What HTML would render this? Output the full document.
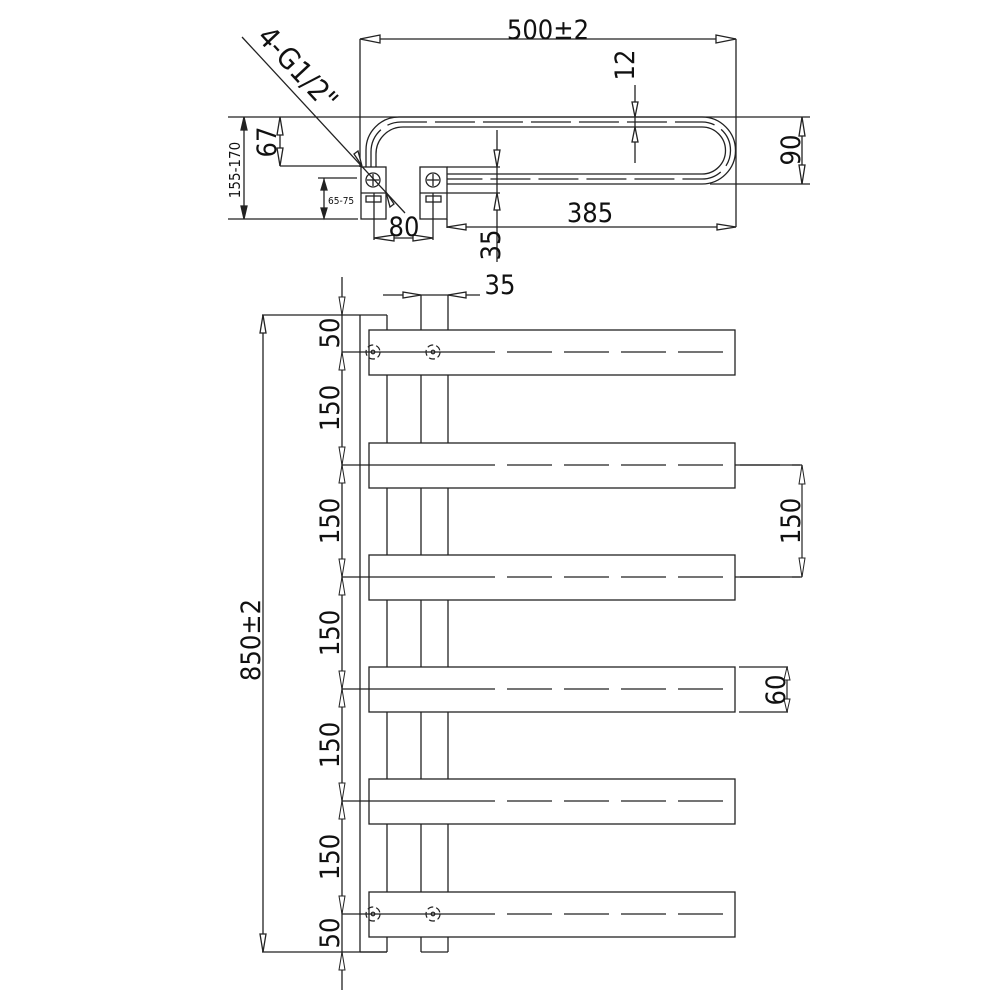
<!DOCTYPE html>
<html><head><meta charset="utf-8"><style>
html,body{margin:0;padding:0;background:#fff}
svg{display:block}
text{font-family:"DejaVu Sans","Liberation Sans",sans-serif;fill:#111;font-stretch:condensed}
</style></head><body>
<svg width="1000" height="1000" viewBox="0 0 1000 1000" xmlns="http://www.w3.org/2000/svg">
<g stroke="#222" stroke-width="1.3" fill="none">
<line x1="360" y1="39" x2="736" y2="39"/>
<line x1="360" y1="39" x2="360" y2="167"/>
<line x1="736" y1="39" x2="736" y2="227"/>
<polygon points="360,39 380,35 380,43" fill="#fff"/>
<polygon points="736,39 716,35 716,43" fill="#fff"/>
<line x1="228" y1="117" x2="810" y2="117"/>
<line x1="228" y1="219" x2="358" y2="219"/>
<line x1="280" y1="166" x2="361" y2="166"/>
<line x1="318" y1="178" x2="357" y2="178"/>
<line x1="710" y1="184" x2="810" y2="184"/>
<path d="M366,167 L366,150 A33,33 0 0 1 399,117 L702,117 A33.5,33.5 0 0 1 702,184 L447,184"/>
<path d="M371,167 L371,152 A30,30 0 0 1 401,122 L702,122 A28.5,28.5 0 0 1 702,179 L447,179" stroke-dasharray="40,8"/>
<path d="M376,167 L376,154 A27,27 0 0 1 403,127 L702,127 A23.5,23.5 0 0 1 702,174 L447,174"/>
<rect x="361" y="167" width="25" height="52" fill="#fff"/>
<line x1="361" y1="193" x2="386" y2="193"/>
<circle cx="373" cy="180" r="7"/>
<line x1="367" y1="180" x2="379" y2="180"/><line x1="373" y1="174" x2="373" y2="186"/>
<rect x="366" y="196" width="15" height="6"/>
<rect x="420" y="167" width="27" height="52" fill="#fff"/>
<line x1="420" y1="193" x2="447" y2="193"/>
<circle cx="433" cy="180" r="7"/>
<line x1="427" y1="180" x2="439" y2="180"/><line x1="433" y1="174" x2="433" y2="186"/>
<rect x="426" y="196" width="15" height="6"/>
<line x1="447" y1="167" x2="500" y2="167"/>
<line x1="447" y1="193" x2="500" y2="193"/>
<line x1="374" y1="193" x2="374" y2="240"/>
<line x1="433" y1="193" x2="433" y2="240"/>
<line x1="374" y1="238" x2="433" y2="238"/>
<polygon points="374,238 394,235 394,241" fill="#fff"/>
<polygon points="433,238 413,235 413,241" fill="#fff"/>
<line x1="242" y1="37" x2="405" y2="213"/>
<polygon points="362,166 354,154 358,151" fill="#fff"/>
<polygon points="386,192 394,204 390,207" fill="#fff"/>
<line x1="280" y1="117" x2="280" y2="166"/>
<polygon points="280,117 277,135 283,135" fill="#fff"/>
<polygon points="280,166 277,148 283,148" fill="#fff"/>
<line x1="244" y1="117" x2="244" y2="219"/>
<polygon points="244,117 241,130 247,130" fill="#222"/>
<polygon points="244,219 241,206 247,206" fill="#222"/>
<line x1="324" y1="178" x2="324" y2="219"/>
<polygon points="324,180 321,190 327,190" fill="#222"/>
<polygon points="324,218 321,208 327,208" fill="#222"/>
<line x1="497" y1="130" x2="497" y2="262"/>
<polygon points="497,167 494,150 500,150" fill="#fff"/>
<polygon points="497,193 494,210 500,210" fill="#fff"/>
<line x1="447" y1="219" x2="447" y2="228"/>
<line x1="447" y1="227" x2="736" y2="227"/>
<polygon points="447,227 466,224 466,230" fill="#fff"/>
<polygon points="736,227 717,224 717,230" fill="#fff"/>
<line x1="635" y1="85" x2="635" y2="163"/>
<polygon points="635,117 632,102 638,102" fill="#fff"/>
<polygon points="635,127 632,142 638,142" fill="#fff"/>
<line x1="802" y1="117" x2="802" y2="184"/>
<polygon points="802,117 799,136 805,136" fill="#fff"/>
<polygon points="802,184 799,165 805,165" fill="#fff"/>

<line x1="360" y1="315" x2="360" y2="952"/>
<line x1="387" y1="315" x2="387" y2="952"/>
<line x1="360" y1="952" x2="387" y2="952"/>
<line x1="262" y1="315" x2="387" y2="315"/>
<line x1="262" y1="952" x2="387" y2="952"/>
<line x1="421" y1="295" x2="421" y2="952"/>
<line x1="448" y1="295" x2="448" y2="952"/>
<line x1="421" y1="952" x2="448" y2="952"/>
<line x1="383" y1="295" x2="480" y2="295"/>
<polygon points="421,295 403,292 403,298" fill="#fff"/>
<polygon points="448,295 466,292 466,298" fill="#fff"/>
<line x1="263" y1="315" x2="263" y2="952"/>
<polygon points="263,315 260,333 266,333" fill="#fff"/>
<polygon points="263,952 260,934 266,934" fill="#fff"/>
<line x1="342" y1="277" x2="342" y2="990"/>
</g>
<g stroke="#222" stroke-width="1.3" fill="#fff">
<rect x="369" y="330" width="366" height="45"/>
<rect x="369" y="443" width="366" height="45"/>
<rect x="369" y="555" width="366" height="45"/>
<rect x="369" y="667" width="366" height="45"/>
<rect x="369" y="779" width="366" height="45"/>
<rect x="369" y="892" width="366" height="45"/>
</g>
<g stroke="#222" stroke-width="1.2" fill="none">
<line x1="342" y1="352" x2="450" y2="352"/><line x1="450" y1="352" x2="735" y2="352" stroke-dasharray="45,12"/>
<line x1="342" y1="465" x2="450" y2="465"/><line x1="450" y1="465" x2="800" y2="465" stroke-dasharray="45,12"/>
<line x1="342" y1="577" x2="450" y2="577"/><line x1="450" y1="577" x2="800" y2="577" stroke-dasharray="45,12"/>
<line x1="342" y1="689" x2="450" y2="689"/><line x1="450" y1="689" x2="735" y2="689" stroke-dasharray="45,12"/>
<line x1="342" y1="801" x2="450" y2="801"/><line x1="450" y1="801" x2="735" y2="801" stroke-dasharray="45,12"/>
<line x1="342" y1="914" x2="450" y2="914"/><line x1="450" y1="914" x2="735" y2="914" stroke-dasharray="45,12"/>
<line x1="740" y1="465" x2="802" y2="465"/>
<line x1="740" y1="577" x2="802" y2="577"/>
<line x1="802" y1="465" x2="802" y2="577"/>
<line x1="739" y1="667" x2="788" y2="667"/>
<line x1="739" y1="712" x2="788" y2="712"/>
<line x1="787" y1="667" x2="787" y2="712"/>
<circle cx="373" cy="352" r="7" stroke-dasharray="6,3"/><circle cx="373" cy="352" r="1.8"/>
<circle cx="433" cy="352" r="7" stroke-dasharray="6,3"/><circle cx="433" cy="352" r="1.8"/>
<circle cx="373" cy="914" r="7" stroke-dasharray="6,3"/><circle cx="373" cy="914" r="1.8"/>
<circle cx="433" cy="914" r="7" stroke-dasharray="6,3"/><circle cx="433" cy="914" r="1.8"/>
</g>
<g stroke="#222" stroke-width="1" fill="#fff">
<polygon points="342,315 339,297 345,297"/>
<polygon points="342,352 339,370 345,370"/>
<polygon points="342,465 339,447 345,447"/>
<polygon points="342,465 339,483 345,483"/>
<polygon points="342,577 339,559 345,559"/>
<polygon points="342,577 339,595 345,595"/>
<polygon points="342,689 339,671 345,671"/>
<polygon points="342,689 339,707 345,707"/>
<polygon points="342,801 339,783 345,783"/>
<polygon points="342,801 339,819 345,819"/>
<polygon points="342,914 339,896 345,896"/>
<polygon points="342,952 339,970 345,970"/>
<polygon points="802,465 799,484 805,484"/>
<polygon points="802,577 799,558 805,558"/>
<polygon points="787,667 784,680 790,680"/>
<polygon points="787,712 784,699 790,699"/>
</g>
<g font-size="27">
<text x="548" y="39" text-anchor="middle">500±2</text>
<text x="590" y="222" text-anchor="middle">385</text>
<text x="500" y="294" text-anchor="middle">35</text>
<text transform="translate(634,65) rotate(-90)" text-anchor="middle">12</text>
<text transform="translate(800,150) rotate(-90)" text-anchor="middle">90</text>
<text transform="translate(276,142) rotate(-90)" text-anchor="middle">67</text>
<text transform="translate(500,245) rotate(-90)" text-anchor="middle">35</text>
<text x="404" y="236" text-anchor="middle">80</text>
<text transform="translate(256,38) rotate(47)" font-size="29">4-G1/2"</text>
<text transform="translate(800,521) rotate(-90)" text-anchor="middle">150</text>
<text transform="translate(785,690) rotate(-90)" text-anchor="middle">60</text>
<text transform="translate(260,640) rotate(-90)" text-anchor="middle">850±2</text>
<text transform="translate(339,333) rotate(-90)" text-anchor="middle">50</text>
<text transform="translate(339,408) rotate(-90)" text-anchor="middle">150</text>
<text transform="translate(339,521) rotate(-90)" text-anchor="middle">150</text>
<text transform="translate(339,633) rotate(-90)" text-anchor="middle">150</text>
<text transform="translate(339,745) rotate(-90)" text-anchor="middle">150</text>
<text transform="translate(339,857) rotate(-90)" text-anchor="middle">150</text>
<text transform="translate(339,933) rotate(-90)" text-anchor="middle">50</text>
</g>
<text transform="translate(240,170) rotate(-90)" text-anchor="middle" font-size="15">155-170</text>
<text x="328" y="204" font-size="10">65-75</text>
</svg>
</body></html>
